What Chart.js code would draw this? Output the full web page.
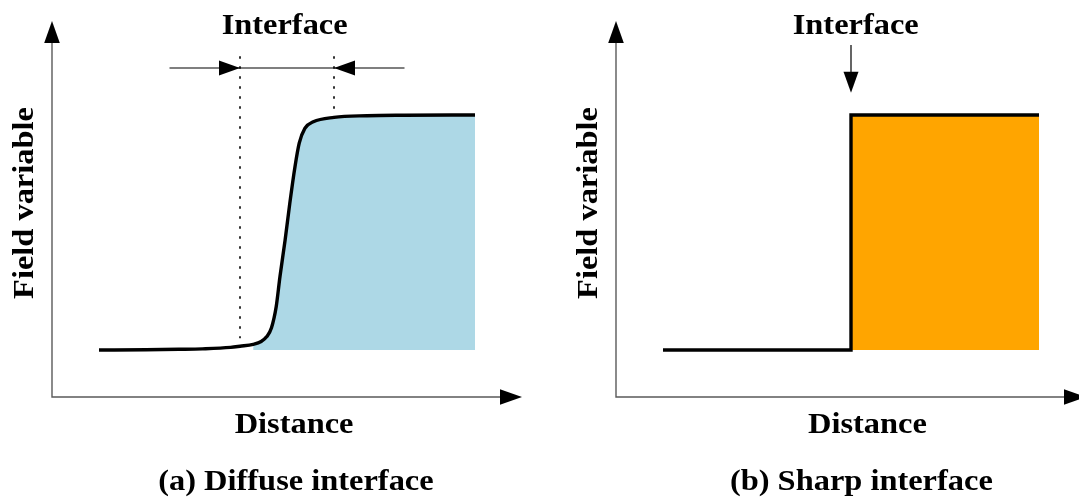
<!DOCTYPE html>
<html>
<head>
<meta charset="utf-8">
<script src="https://cdn.jsdelivr.net/npm/chart.js@4.4.1/dist/chart.umd.min.js"></script>
<style>
  html, body { margin: 0; padding: 0; background: #fff; overflow: hidden; }
  #wrap { position: relative; width: 1079px; height: 498px; overflow: hidden; }
  .panel { position: absolute; top: 0; }
</style>
</head>
<body>
<div id="wrap">
  <canvas id="diffuse" class="panel" width="564" height="498" style="left:0"></canvas>
  <canvas id="sharp" class="panel" width="564" height="498" style="left:564px"></canvas>
</div>
<script>
// ---- Diffuse interface profile (distance, field variable) ----
const diffuseDistance = [1.0, 2.0, 2.7, 3.2, 3.8, 4.0, 4.28, 4.45, 4.57, 4.67, 4.77, 4.85, 4.96, 5.06, 5.17, 5.26, 5.38, 5.56, 6.0, 6.7, 7.5, 9.0];
const diffuseField    = [0.0, 0.001, 0.003, 0.005, 0.011, 0.016, 0.024, 0.036, 0.057, 0.095, 0.184, 0.312, 0.468, 0.625, 0.78, 0.88, 0.943, 0.971, 0.99, 0.997, 0.999, 1.0];
const diffuseFillFrom = 4.28;          // shaded phase starts here
const interfaceBounds = [4.0, 6.0];    // diffuse interface width
const widthArrowSpan  = [2.5, 7.5];
const widthArrowLevel = 1.2;
const guideTop        = 1.25;

// ---- Sharp interface profile ----
const sharpDistance = [1.0, 5.0, 5.0, 9.0];
const sharpField    = [0.0, 0.0, 1.0, 1.0];
const sharpInterface = 5.0;
const pointerFrom = 1.298;
const pointerTo   = 1.095;

// ---- Text ----
const axisTitleX = 'Distance';
const axisTitleY = 'Field variable';
const interfaceTitle = 'Interface';
const captionDiffuse = '(a) Diffuse interface';
const captionSharp   = '(b) Sharp interface';

const BLUE = '#add8e6';
const ORANGE = '#ffa500';
const FONT = 'bold 29px "Liberation Serif", "DejaVu Serif", serif';

const pts = (xs, ys) => xs.map((x, i) => ({ x, y: ys[i] }));

let textStretch = 1;
function computeStretch() {
  const c = document.createElement('canvas').getContext('2d');
  c.font = FONT;
  textStretch = 126 / c.measureText(interfaceTitle).width;
}
computeStretch();

function arrowHead(ctx, tx, ty, dir, len, half) {
  const d = { right: [1, 0], left: [-1, 0], up: [0, -1], down: [0, 1] }[dir];
  const bx = tx - d[0] * len, by = ty - d[1] * len;
  const nx = -d[1], ny = d[0];
  ctx.beginPath();
  ctx.moveTo(tx, ty);
  ctx.lineTo(bx + nx * half, by + ny * half);
  ctx.lineTo(bx - nx * half, by - ny * half);
  ctx.closePath();
  ctx.fillStyle = '#000';
  ctx.fill();
}

// Draws the arrowed axes, arrowheads and titles through the chart's scales
const decorPlugin = {
  id: 'decor',
  afterDatasetsDraw(chart, args, opts) {
    const { ctx } = chart;
    const xs = chart.scales.x, ys = chart.scales.y;
    const px = v => xs.getPixelForValue(v), py = v => ys.getPixelForValue(v);
    ctx.save();
    // axes
    const ox = px(xs.min), oy = py(ys.min);
    const ex = px(xs.max), ey = py(ys.max);
    ctx.strokeStyle = '#5a5a5a';
    ctx.lineWidth = 1.4;
    ctx.beginPath();
    ctx.moveTo(ox, ey + 10); ctx.lineTo(ox, oy); ctx.lineTo(ex - 10, oy);
    ctx.stroke();
    arrowHead(ctx, ex, oy, 'right', 22, 7.8);
    arrowHead(ctx, ox, ey, 'up', 22, 7.8);
    // annotation arrowheads
    (opts.heads || []).forEach(h => arrowHead(ctx, px(h.x), py(h.y), h.dir, 21, 7.5));
    // titles
    ctx.fillStyle = '#000';
    ctx.font = FONT;
    ctx.textAlign = 'center';
    ctx.textBaseline = 'alphabetic';
    (opts.labels || []).forEach(l => {
      ctx.save();
      ctx.translate(px(l.x), py(l.y));
      if (l.rotate) ctx.rotate(l.rotate);
      ctx.scale(textStretch, 1);
      ctx.fillText(l.text, 0, 0);
      ctx.restore();
    });
    ctx.restore();
  }
};

function baseOptions(decor) {
  return {
    responsive: false,
    animation: false,
    events: [],
    layout: { padding: { left: 52, right: 42, top: 21, bottom: 101 } },
    scales: {
      x: { type: 'linear', min: 0, max: 10, display: false },
      y: { type: 'linear', min: -0.2, max: 1.4, display: false }
    },
    elements: { point: { radius: 0 }, line: { tension: 0 } },
    plugins: { legend: { display: false }, tooltip: { enabled: false }, decor }
  };
}

function commonLabels(interfaceX, distanceX, captionX, caption) {
  return [
    { text: interfaceTitle, x: interfaceX, y: 1.345 },
    { text: axisTitleX, x: distanceX, y: -0.353 },
    { text: caption, x: captionX, y: -0.596 },
    { text: axisTitleY, x: -0.404, y: 0.6255, rotate: -Math.PI / 2 }
  ];
}

const guideStyle = { borderColor: '#000', borderWidth: 1.6, borderDash: [2.5, 7.5], borderCapStyle: 'butt', fill: false, order: 1 };

// ---- (a) Diffuse interface ----
const curvePts = pts(diffuseDistance, diffuseField);
new Chart(document.getElementById('diffuse'), {
  type: 'line',
  data: {
    datasets: [
      { data: curvePts, borderColor: '#000', borderWidth: 3.4, cubicInterpolationMode: 'monotone', fill: false, order: 0 },
      { data: curvePts.filter(p => p.x >= diffuseFillFrom), borderWidth: 0, borderColor: 'rgba(0,0,0,0)',
        backgroundColor: BLUE, cubicInterpolationMode: 'monotone', fill: { value: 0 }, order: 3 },
      Object.assign({ data: [{ x: interfaceBounds[0], y: guideTop }, { x: interfaceBounds[0], y: 0.05 }] }, guideStyle),
      Object.assign({ data: [{ x: interfaceBounds[1], y: guideTop }, { x: interfaceBounds[1], y: 0.99 }] }, guideStyle),
      { data: [{ x: widthArrowSpan[0], y: widthArrowLevel }, { x: widthArrowSpan[1], y: widthArrowLevel }],
        borderColor: '#000', borderWidth: 1.2, fill: false, order: 1 }
    ]
  },
  options: baseOptions({
    heads: [
      { x: interfaceBounds[0], y: widthArrowLevel, dir: 'right' },
      { x: interfaceBounds[1], y: widthArrowLevel, dir: 'left' }
    ],
    labels: commonLabels(4.95, 5.15, 5.19, captionDiffuse)
  }),
  plugins: [decorPlugin]
});

// ---- (b) Sharp interface ----
const stepPts = pts(sharpDistance, sharpField);
new Chart(document.getElementById('sharp'), {
  type: 'line',
  data: {
    datasets: [
      { data: stepPts, borderColor: '#000', borderWidth: 3.4, borderJoinStyle: 'miter', fill: false, order: 0 },
      { data: stepPts.filter(p => p.y === 1), borderWidth: 0, borderColor: 'rgba(0,0,0,0)',
        backgroundColor: ORANGE, fill: { value: 0 }, order: 3 },
      { data: [{ x: sharpInterface, y: pointerFrom }, { x: sharpInterface, y: pointerTo + 0.05 }],
        borderColor: '#000', borderWidth: 1.2, fill: false, order: 1 }
    ]
  },
  options: baseOptions({
    heads: [{ x: sharpInterface, y: pointerTo, dir: 'down' }],
    labels: commonLabels(5.1, 5.35, 5.22, captionSharp)
  }),
  plugins: [decorPlugin]
});
</script>
</body>
</html>
